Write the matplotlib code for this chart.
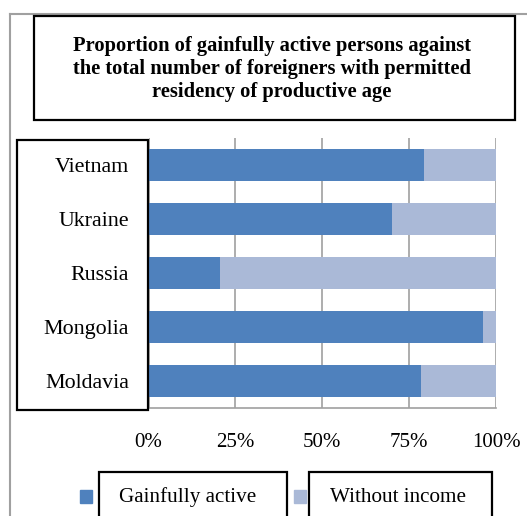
import numpy as np
import matplotlib
matplotlib.use("Agg")
import matplotlib.pyplot as plt
from matplotlib.patches import Rectangle
from matplotlib.lines import Line2D

# data
countries = ["Vietnam", "Ukraine", "Russia", "Mongolia", "Moldavia"]
gainful = [79.4, 70.0, 20.7, 96.4, 78.4]
without_income = [20.6, 30.0, 79.3, 3.6, 21.6]
ticks = [0, 25, 50, 75, 100]
tick_labels = ["0%", "25%", "50%", "75%", "100%"]
series_names = ["Gainfully active", "Without income"]
colors = ["#4F81BD", "#AAB9D7"]

W, H = 527, 516
plt.rcParams["font.family"] = ["Liberation Serif", "DejaVu Serif"]

fig = plt.figure(figsize=(W / 100, H / 100), dpi=100)


def fx(x):
    return x / W


def fy(y):
    return 1 - y / H


# %% plot area (pixel box from the reference)
left, right, top, bottom = 148.5, 496, 138, 408
ax = fig.add_axes([fx(left), fy(bottom), fx(right - left), (bottom - top) / H])

y = np.arange(len(countries))
ax.barh(y, gainful, height=0.6, color=colors[0], zorder=2)
ax.barh(y, without_income, left=gainful, height=0.6, color=colors[1], zorder=2)
ax.set_xlim(0, 100)
ax.set_ylim(len(countries) - 0.5, -0.5)

ax.set_xticks(ticks)
ax.set_xticklabels(tick_labels, fontsize=15)
ax.set_yticks(y)
ax.set_yticklabels(countries, fontsize=15.8)
ax.tick_params(axis="x", length=0, pad=18)
ax.tick_params(axis="y", length=0, pad=14)
ax.xaxis.grid(True, color="#A0A0A0", linewidth=1.2, zorder=0)
ax.set_axisbelow(True)
for s in ["top", "right", "left"]:
    ax.spines[s].set_visible(False)
ax.spines["bottom"].set_color("#A0A0A0")
ax.spines["bottom"].set_linewidth(1.2)

# %% frames
def box(x0, y0, x1, y1, lw=1.6):
    fig.patches.append(Rectangle((fx(x0), fy(y1)), fx(x1 - x0), (y1 - y0) / H,
                                 transform=fig.transFigure, fill=False,
                                 edgecolor="black", linewidth=lw, zorder=5))

# outer chart border (gray)
fig.lines.append(Line2D([fx(10), fx(10)], [fy(14), fy(H + 5)], color="#A0A0A0",
                        linewidth=1.5, transform=fig.transFigure))
fig.lines.append(Line2D([fx(10), fx(W + 5)], [fy(14), fy(14)], color="#A0A0A0",
                        linewidth=1.5, transform=fig.transFigure))

box(34, 16, 515, 120)
box(17, 140, 148, 410)
box(99, 472, 287, H + 10)
box(309, 472, 492, H + 10)

fig.text(fx(272), fy(69), "Proportion of gainfully active persons against\n"
         "the total number of foreigners with permitted\nresidency of productive age",
         ha="center", va="center", fontsize=14.8, fontweight="bold", linespacing=1.22)

# legend
for sx, tx, name, c in zip([80, 294], [188, 398], series_names, colors):
    fig.patches.append(Rectangle((fx(sx), fy(503)), fx(12), 13 / H,
                                 transform=fig.transFigure, color=c))
    fig.text(fx(tx), fy(497), name, ha="center", va="center", fontsize=15.2)

fig.savefig("out.png", dpi=100)
